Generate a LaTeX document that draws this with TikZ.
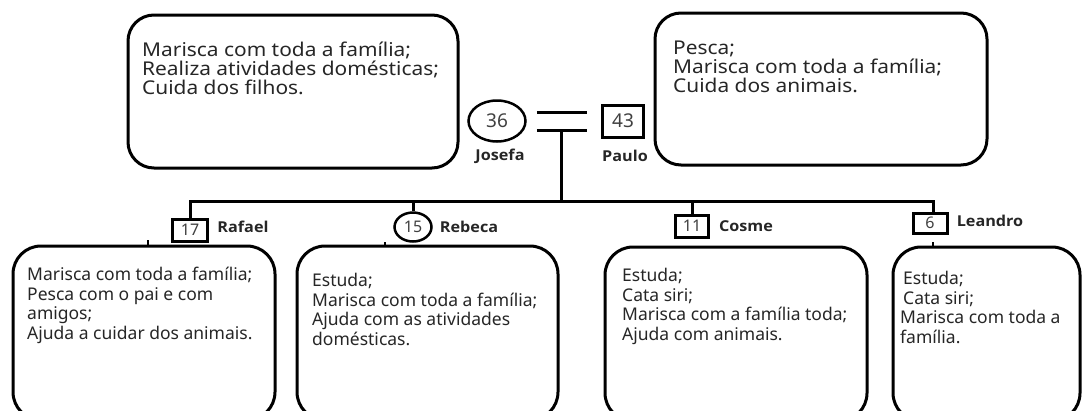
\documentclass[tikz,border=0pt]{standalone}
\usepackage{fontspec}
\setmainfont{Noto Sans}
\newfontfamily\widefont[FakeStretch=1.1]{Noto Sans}
\newfontfamily\labelfont[FakeStretch=1.08]{Open Sans}
\usetikzlibrary{positioning,shapes.geometric}

\tikzset{
	box/.style={draw, line width=3pt, rounded corners=26pt, inner sep=0pt},
	boxtext/.style={anchor=north west, align=left, inner sep=0pt, text=black!85, font=\widefont\fontsize{19}{19}\selectfont},
	kidtext/.style={anchor=north west, align=left, inner sep=0pt, text=black!85, font=\fontsize{17.5}{19.5}\selectfont},
	fem/.style={draw, ellipse, line width=2.5pt, inner sep=0pt, text=black!75},
	mal/.style={draw, rectangle, line width=3pt, inner sep=0pt, text=black!75},
	who/.style={font=\labelfont\bfseries\fontsize{15}{15}\selectfont, text=black!85},
	link/.style={line width=3pt},
}

\begin{document}
\begin{tikzpicture}[x=1pt,y=-1pt]

	\useasboundingbox (0,0) rectangle (1083,410);
	\clip (0,0) rectangle (1083,410);

	\node[box, minimum width=330pt, minimum height=153pt] (mbox) at (293,91.5) {};
	\node[boxtext] (mtext) at (142,42) {Marisca com toda a família;\\Realiza atividades domésticas;\\Cuida dos filhos.};

	\node[box, minimum width=332pt, minimum height=152pt] (pbox) at (821,89) {};
	\node[boxtext] (ptext) at (673,41) {Pesca;\\Marisca com toda a família;\\Cuida dos animais.};

	\node[fem, minimum width=57pt, minimum height=41pt, font=\fontsize{19}{19}\selectfont] (jos) at (497,121) {36};
	\node[who] (josname) at (500,156) {Josefa};
	\node[mal, minimum width=41pt, minimum height=32pt, font=\fontsize{19}{19}\selectfont] (pau) at (623,121) {43};
	\node[who] (pauname) at (625,156) {Paulo};

	\draw[link] ([xshift=10pt,yshift=9pt]jos.east) -- ([xshift=-14pt,yshift=9pt]pau.west);
	\draw[link] ([xshift=10pt,yshift=-9pt]jos.east) -- coordinate[pos=0.5] (wed) ([xshift=-14pt,yshift=-9pt]pau.west);
	\coordinate (bar) at (561,201);

	\node[mal, minimum width=35pt, minimum height=22pt, font=\fontsize{16}{16}\selectfont] (raf) at (190,230) {17};
	\node[who] (rafname) at (243,227) {Rafael};
	\node[fem, minimum width=37pt, minimum height=29pt, font=\fontsize{16}{16}\selectfont] (reb) at (413,227) {15};
	\node[who] (rebname) at (469,227) {Rebeca};
	\node[mal, minimum width=33pt, minimum height=22pt, font=\fontsize{16}{16}\selectfont] (cos) at (692,226) {11};
	\node[who] (cosname) at (746,226) {Cosme};
	\node[mal, minimum width=34pt, minimum height=20pt, font=\fontsize{16}{16}\selectfont] (lea) at (930,223) {6\hspace{10pt}};
	\node[who] (leaname) at (990,221) {Leandro};

	\draw[link] (wed) -- (wed |- bar);
	\draw[link] (raf.north) |- (wed |- bar) -| ([xshift=3pt]lea.north);
	\draw[link] (reb.north) -- (reb.north |- bar);
	\draw[link] (cos.north) -- (cos.north |- bar);

	\node[box, rounded corners=28pt, minimum width=262pt, minimum height=174pt] (rafbox) at (144,333) {};
	\node[kidtext] (raftext) at (27,267) {Marisca com toda a família;\\Pesca com o pai e com\\amigos;\\Ajuda a cuidar dos animais.};
	\node[box, rounded corners=28pt, minimum width=261pt, minimum height=174pt] (rebbox) at (427.5,333) {};
	\node[kidtext] (rebtext) at (312,273) {Estuda;\\Marisca com toda a família;\\Ajuda com as atividades\\domésticas.};
	\node[box, rounded corners=28pt, minimum width=262pt, minimum height=174pt] (cosbox) at (736,334) {};
	\node[kidtext] (costext) at (622,268) {Estuda;\\Cata siri;\\Marisca com a família toda;\\Ajuda com animais.};
	\node[box, rounded corners=28pt, minimum width=187pt, minimum height=174pt] (leabox) at (986.5,334) {};
	\node[kidtext] (leatext) at (900,271) {\hspace*{3pt}Estuda;\\\hspace*{3pt}Cata siri;\\Marisca com toda a\\família.};

	\coordinate (raftip) at (148,240);
	\coordinate (rebtip) at (385,242);
	\coordinate (leatip) at (933,242);
	\draw[link, line width=2.5pt] (raftip) -- (raftip |- rafbox.north);
	\draw[link, line width=2.5pt] (rebtip) -- (rebtip |- rebbox.north);
	\draw[link, line width=1.5pt] (leatip) -- (leatip |- leabox.north);

\end{tikzpicture}
\end{document}
